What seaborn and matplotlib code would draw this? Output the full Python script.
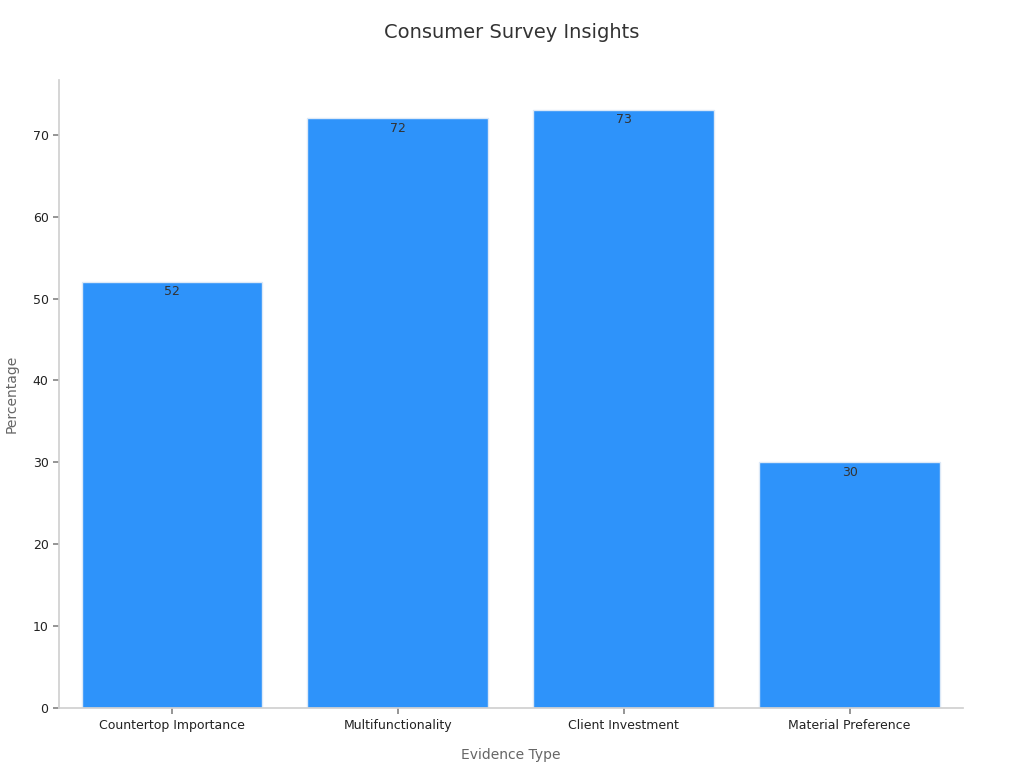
import matplotlib
matplotlib.use("Agg")
import matplotlib.pyplot as plt
import seaborn as sns
import pandas as pd

categories = ["Countertop Importance", "Multifunctionality", "Client Investment", "Material Preference"]
values = [52, 72, 73, 30]

df = pd.DataFrame({"Evidence Type": categories, "Percentage": values})

sns.set_theme(style="white")
fig = plt.figure(figsize=(10.24, 7.68), dpi=100)
ax = fig.add_axes([0.0576, 0.078, 0.8824, 0.818])
sns.barplot(data=df, x="Evidence Type", y="Percentage", color="#2E93FA", saturation=1,
            width=0.8, edgecolor="#dce9f7", linewidth=1, ax=ax)
for i, v in enumerate(values):
    ax.text(i, v - 0.4, str(v), ha="center", va="top", fontsize=9, color="#333333")
ax.set_ylim(0, 76.7)
ax.set_xlim(-0.5, 3.5)
ax.set_yticks(range(0, 71, 10))
for s in ["top", "right"]:
    ax.spines[s].set_visible(False)
for s in ["left", "bottom"]:
    ax.spines[s].set_color("#d0d0d0")
ax.tick_params(axis="both", labelsize=9, colors="#222222", length=4, color="#888888", bottom=True, left=True)
ax.set_xlabel("Evidence Type", fontsize=10, color="#666666", labelpad=12)
ax.set_ylabel("Percentage", fontsize=10, color="#666666", labelpad=10)
fig.suptitle("Consumer Survey Insights", y=0.97, fontsize=14, color="#333333")
fig.savefig("out.png", dpi=100)
